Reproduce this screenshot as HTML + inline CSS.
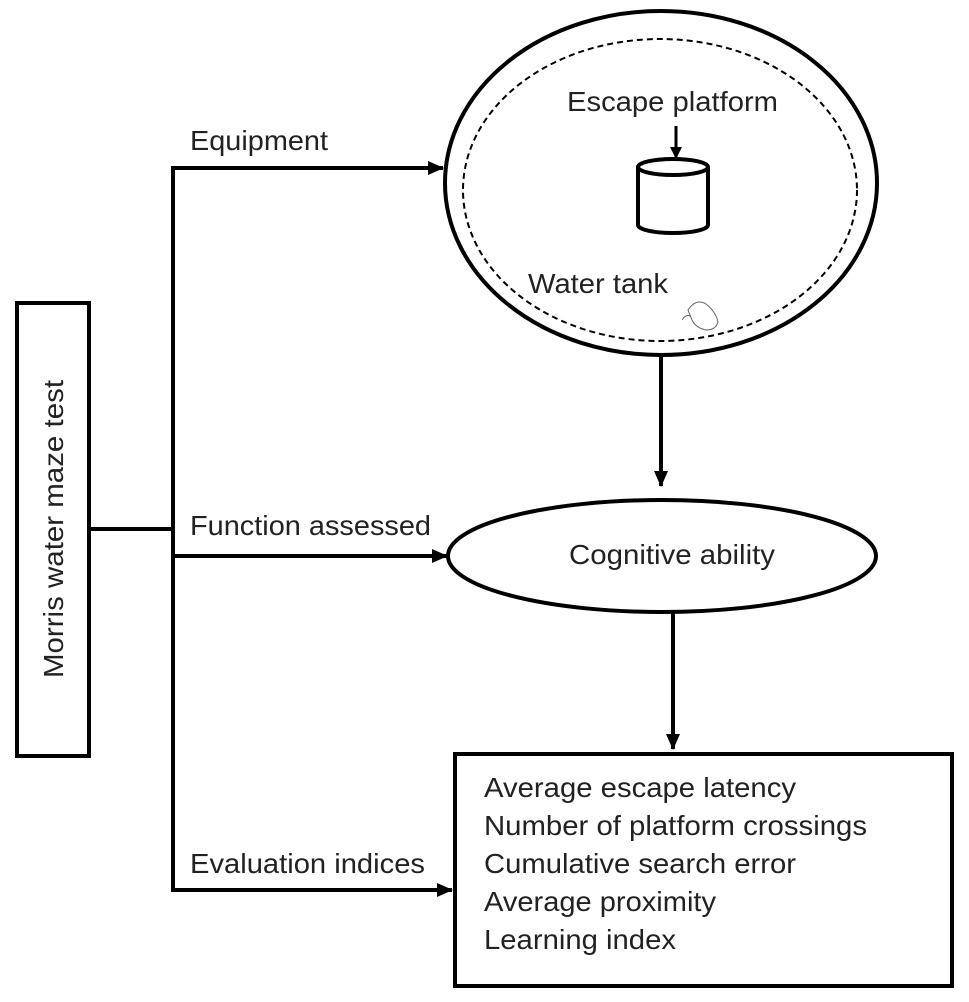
<!DOCTYPE html>
<html><head><meta charset="utf-8"><style>html,body{margin:0;padding:0;background:#fff}svg{display:block}</style></head>
<body>
<svg width="969" height="1002" viewBox="0 0 969 1002" xmlns="http://www.w3.org/2000/svg" font-family="Liberation Sans, sans-serif" font-size="28" fill="#222">
<defs><marker id="a" markerWidth="12" markerHeight="12" refX="11" refY="6" orient="auto" markerUnits="userSpaceOnUse"><path d="M0,0 L12,6 L0,12 z" fill="#000"/></marker>
<marker id="b" markerWidth="16" markerHeight="14" refX="15" refY="7" orient="auto" markerUnits="userSpaceOnUse"><path d="M0,0 L16,7 L0,14 z" fill="#000"/></marker></defs>
<g stroke="#000" stroke-width="4" fill="none">
<rect x="17" y="303" width="72" height="453"/>
<line x1="89" y1="529" x2="173" y2="529"/>
<line x1="173" y1="166" x2="173" y2="892"/>
<line x1="171" y1="168" x2="443" y2="168" marker-end="url(#b)"/>
<line x1="171" y1="556" x2="447" y2="556" marker-end="url(#b)"/>
<line x1="171" y1="890" x2="452" y2="890" marker-end="url(#b)"/>
<ellipse cx="661" cy="183" rx="216" ry="172"/>
<ellipse cx="660" cy="190" rx="197" ry="151" stroke-width="2" stroke-dasharray="6,4"/>
<line x1="661" y1="355" x2="661" y2="486" marker-end="url(#b)"/>
<ellipse cx="662" cy="556" rx="214" ry="56"/>
<line x1="673" y1="612" x2="673" y2="749" marker-end="url(#b)"/>
<rect x="455" y="754" width="497" height="232"/>
<path d="M638,167 L638,225 A35,8 0 0 0 708,225 L708,167"/>
<ellipse cx="673" cy="167" rx="35" ry="8"/>
<line x1="676" y1="126" x2="676" y2="158" stroke-width="3" marker-end="url(#a)"/>
<g stroke-width="1" stroke="#666"><path d="M688,310 q8,-12 18,-6 q10,8 12,18 q-2,8 -12,8 q-10,-2 -14,-10 z M682,320 q4,-6 8,-4"/></g>
</g>
<g lengthAdjust="spacingAndGlyphs">
<text x="567" y="111" textLength="211" lengthAdjust="spacingAndGlyphs">Escape platform</text>
<text x="528" y="293" textLength="140" lengthAdjust="spacingAndGlyphs">Water tank</text>
<text x="190" y="150" textLength="138" lengthAdjust="spacingAndGlyphs">Equipment</text>
<text x="190" y="535" textLength="241" lengthAdjust="spacingAndGlyphs">Function assessed</text>
<text x="190" y="873" textLength="235" lengthAdjust="spacingAndGlyphs">Evaluation indices</text>
<text x="569" y="564" textLength="206" lengthAdjust="spacingAndGlyphs">Cognitive ability</text>
<text transform="translate(63,678) rotate(-90)" textLength="298" lengthAdjust="spacingAndGlyphs">Morris water maze test</text>
<text x="484" y="797" textLength="312" lengthAdjust="spacingAndGlyphs">Average escape latency</text>
<text x="484" y="835" textLength="383" lengthAdjust="spacingAndGlyphs">Number of platform crossings</text>
<text x="484" y="873" textLength="312" lengthAdjust="spacingAndGlyphs">Cumulative search error</text>
<text x="484" y="911" textLength="232" lengthAdjust="spacingAndGlyphs">Average proximity</text>
<text x="484" y="949" textLength="192" lengthAdjust="spacingAndGlyphs">Learning index</text>
</g>
</svg>
</body></html>
